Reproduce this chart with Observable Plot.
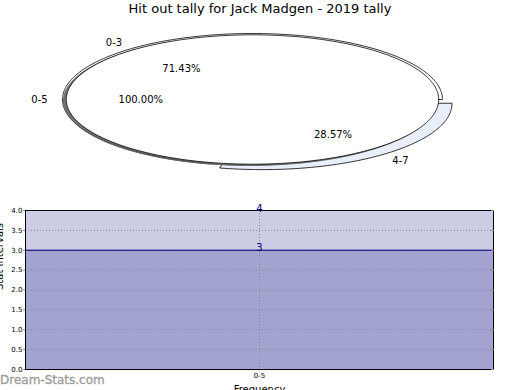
<!DOCTYPE html>
<html><head><meta charset="utf-8">
<script src="https://cdn.jsdelivr.net/npm/d3@7"></script>
<script src="https://cdn.jsdelivr.net/npm/@observablehq/plot@0.6"></script>
<style>
body{margin:0;background:#fff}
#wrap{position:relative;width:520px;height:390px;overflow:hidden;font-family:"DejaVu Sans",sans-serif}
#title{position:absolute;top:1px;left:0;width:520px;text-align:center;font-size:13px;color:#000;white-space:nowrap}
#pie{position:absolute;top:0;left:0}
#bar{position:absolute;top:195px;left:0}
#wm{position:absolute;left:0;top:373px;font-size:12px;color:#9a9a9a;white-space:nowrap;-webkit-text-stroke:0.3px #9a9a9a}
</style></head>
<body><div id="wrap"><div id="pie"></div><div id="bar"></div><div id="title">Hit out tally for Jack Madgen - 2019 tally</div><div id="wm">Dream-Stats.com</div></div>
<script>
// ---- data ----
const chartTitle = "Hit out tally for Jack Madgen - 2019 tally";
const outerLabels = ["0-3", "4-7"];
const outerValues = [5, 2];          // 71.43%, 28.57%
const innerLabels = ["0-5"];
const innerValues = [7];             // 100.00%
const barCategories = ["0-5"];
const barSeriesNames = ["4", "3"];
const barSeriesValues = [4, 3];
const yTickValues = [0, 0.5, 1, 1.5, 2, 2.5, 3, 3.5, 4];
const xAxisLabel = "Frequency";
const yAxisLabel = "Stat Intervals";

// ---- pie geometry ----
const TAU = Math.PI * 2;
function wedges(values, labels, r, explode) {
  const total = d3.sum(values);
  let a = 0;
  return values.map((v, i) => {
    const a0 = a, a1 = a + v / total * TAU; a = a1;
    const mid = (a0 + a1) / 2, e = explode[i] || 0;
    return {label: labels[i], pct: v / total, a0, a1, mid, r, ox: e * Math.cos(mid), oy: e * Math.sin(mid)};
  });
}
function wedgePoints(w, full, sx = 0, sy = 0) {
  const n = Math.max(4, Math.ceil((w.a1 - w.a0) / TAU * 360));
  const pts = [];
  if (!full) pts.push({x: w.ox + sx, y: w.oy + sy});
  for (let k = 0; k <= n; k++) {
    const t = w.a0 + (w.a1 - w.a0) * k / n;
    pts.push({x: w.ox + sx + w.r * Math.cos(t), y: w.oy + sy + w.r * Math.sin(t)});
  }
  return pts;
}
const outer = wedges(outerValues, outerLabels, 1, [0, 0.08]);
const inner = wedges(innerValues, innerLabels, 0.98, [0]);
const outerFills = ["#ffffff", "#e9eefb"];

const labelRows = [];
const pctRows = [];
for (const w of [...outer, ...inner]) {
  const c = Math.cos(w.mid), s = Math.sin(w.mid);
  const lx = w.ox + 1.1 * w.r * c, ly = w.oy + 1.1 * w.r * s;
  labelRows.push({x: lx, y: ly, text: w.label, anchor: lx < 0 ? "end" : "start"});
  pctRows.push({x: w.ox + 0.6 * w.r * c, y: w.oy + 0.6 * w.r * s, text: (w.pct * 100).toFixed(2) + "%"});
}

const pieMarks = [];
outer.forEach((w, i) => pieMarks.push(Plot.line(wedgePoints(w, false), {x: "x", y: "y", fill: outerFills[i], stroke: "#000", strokeWidth: 0.8, curve: "linear-closed"})));
inner.forEach(w => {
  pieMarks.push(Plot.line(wedgePoints(w, true, -0.015, -0.02), {x: "x", y: "y", fill: "#444", fillOpacity: 0.75, stroke: "#666", strokeWidth: 1, curve: "linear-closed"}));
  pieMarks.push(Plot.line(wedgePoints(w, true), {x: "x", y: "y", fill: "#fff", stroke: "#000", strokeWidth: 0.8, curve: "linear-closed"}));
});
pieMarks.push(Plot.text(labelRows.filter(d => d.anchor === "end"), {x: "x", y: "y", text: "text", textAnchor: "end", fontSize: 10, fill: "#000"}));
pieMarks.push(Plot.text(labelRows.filter(d => d.anchor === "start"), {x: "x", y: "y", text: "text", textAnchor: "start", fontSize: 10, fill: "#000"}));
pieMarks.push(Plot.text(pctRows, {x: "x", y: "y", text: "text", fontSize: 10, fill: "#000"}));

const pie = Plot.plot({
  width: 520, height: 190, margin: 0,
  x: {domain: [-252 / 190, 268 / 190], axis: null},
  y: {domain: [(99 - 190) / 66, 99 / 66], axis: null},
  style: {fontFamily: "DejaVu Sans", background: "transparent"},
  marks: pieMarks
});
document.getElementById("pie").appendChild(pie);

// ---- bottom chart ----
const barFills = ["#ccccE4", "#a3a3d0"];
const barData = barSeriesValues.map((v, i) => ({cat: barCategories[0], value: v, name: barSeriesNames[i]}));
const bar = Plot.plot({
  width: 520, height: 195,
  marginTop: 15, marginBottom: 21, marginLeft: 25, marginRight: 27,
  x: {type: "band", domain: barCategories, padding: 0},
  y: {domain: [0, 4]},
  style: {fontFamily: "DejaVu Sans", background: "transparent"},
  marks: [
    ...barData.map((d, i) => Plot.barY([d], {x: "cat", y: "value", fill: barFills[i], inset: 0})),
    Plot.gridY(yTickValues.filter(v => v > 0 && v < 4), {stroke: "#8a8a8a", strokeOpacity: 1, strokeWidth: 1, strokeDasharray: "1,2"}),
    Plot.gridX(barCategories, {stroke: "#8a8a8a", strokeOpacity: 1, strokeWidth: 1, strokeDasharray: "1,2"}),
    Plot.ruleY([barSeriesValues[1]], {stroke: "#000080", strokeWidth: 1}),
    Plot.frame({stroke: "#000", strokeWidth: 1}),
    Plot.text(barData, {x: "cat", y: "value", text: "name", fill: "#000080", fontSize: 10, lineAnchor: "bottom", dy: 1}),
    Plot.axisY(yTickValues, {tickFormat: d3.format(".1f"), tickSize: 2, tickPadding: 1, fontSize: 7, stroke: "#888", label: null}),
    Plot.axisY(yTickValues, {anchor: "right", tickSize: 3, dx: -3, tickFormat: () => "", stroke: "#888", label: null}),
    Plot.axisX({tickSize: 0, tickPadding: 4, fontSize: 7, label: null}),
    Plot.text([xAxisLabel], {frameAnchor: "bottom", dy: 16, lineAnchor: "top", fontSize: 10, fill: "#000"}),
    Plot.text([yAxisLabel], {frameAnchor: "left", rotate: -90, dx: -23, lineAnchor: "bottom", fontSize: 10, fill: "#000"})
  ]
});
document.getElementById("bar").appendChild(bar);
</script>
</body></html>
